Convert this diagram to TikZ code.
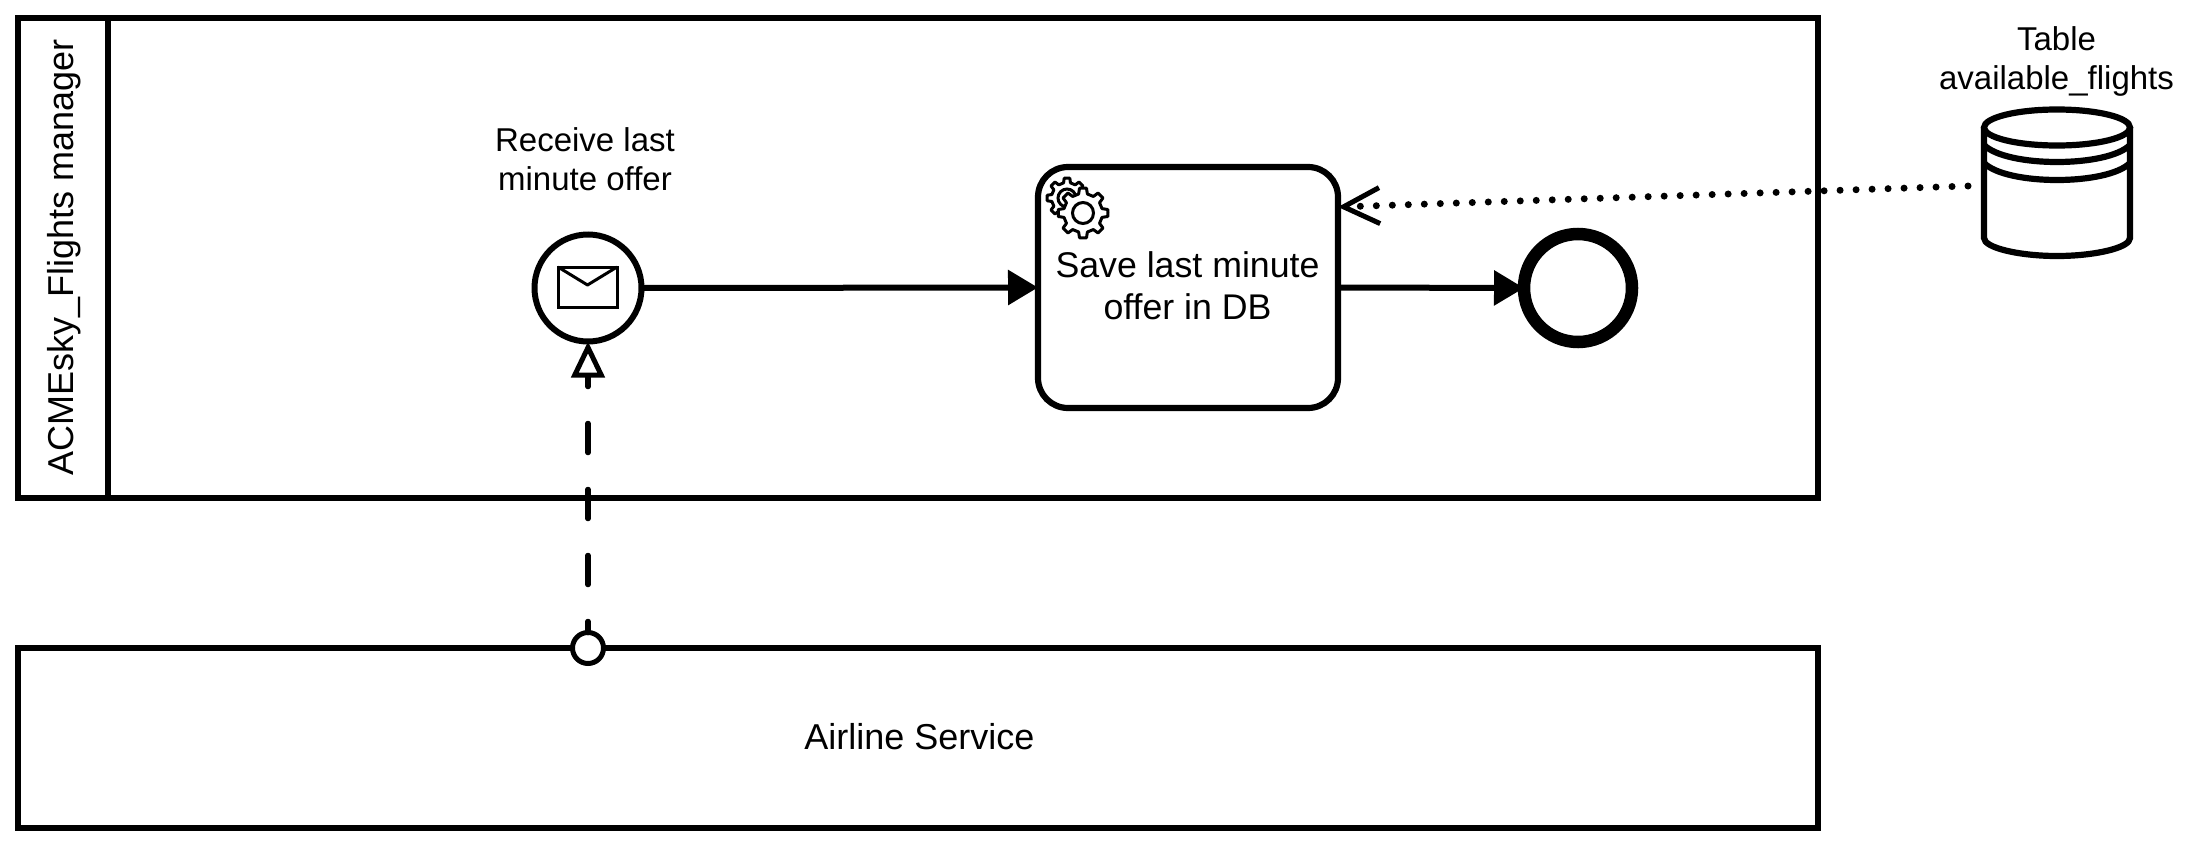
\documentclass[tikz,border=0pt]{standalone}
\usepackage{fontspec}
\setmainfont{Liberation Sans}
\usetikzlibrary{arrows.meta,calc}
\newcommand{\mygearpath}[4]{% cx cy rOuter rInner
  \draw[gearline] (#1+#3*1,#2) \foreach \k in {0,...,7}{
    -- ($(#1,#2)+(\k*45-8:#3)$) -- ($(#1,#2)+(\k*45+8:#3)$)
    -- ($(#1,#2)+(\k*45+13:#4)$) -- ($(#1,#2)+(\k*45+32:#4)$)
  } -- ($(#1,#2)+(-8:#3)$) -- cycle;
}
\tikzset{
  x=1pt,y=-1pt,
  pool/.style={draw=black,line width=6.2pt,rectangle,inner sep=0pt,outer sep=0pt,fill=white,font=\fontsize{36}{42}\selectfont},
  lanehead/.style={font=\fontsize{36}{42}\selectfont,rotate=90,inner sep=0pt},
  taskbox/.style={draw=black,line width=6.2pt,rectangle,rounded corners=30pt,inner sep=0pt,outer sep=0pt,minimum width=300pt,minimum height=241pt},
  tasklabel/.style={font=\fontsize{35.7}{42}\selectfont,align=center,inner sep=0pt},
  smalllabel/.style={font=\fontsize{33}{39}\selectfont,align=center,inner sep=0pt},
  startevent/.style={draw=black,line width=6pt,circle,inner sep=0pt,outer sep=0pt,minimum size=107pt,fill=white},
  endevent/.style={draw=black,line width=12.5pt,circle,inner sep=0pt,outer sep=0pt,minimum size=108pt,fill=white},
  port/.style={draw=black,line width=5pt,circle,inner sep=0pt,outer sep=0pt,minimum size=31pt,fill=white},
  seqflow/.style={line width=6pt,-{Triangle[length=30pt,width=34pt]}},
  msgflow/.style={line width=5.5pt,line cap=round,dash pattern=on 29pt off 37pt,dash phase=18pt,-{Triangle[open,fill=white,length=36pt,width=33pt,line width=5pt]}},
  dataflow/.style={line width=7pt,line cap=round,dash pattern=on 0pt off 16pt,-{Straight Barb[length=36pt,width=36pt,line width=5pt]}},
  gearline/.style={draw=black,line width=3pt,fill=white,line join=round},
  dbline/.style={draw=black,line width=6.2pt},
  envline/.style={draw=black,line width=3pt}
}
\begin{document}
\begin{tikzpicture}
\useasboundingbox (0,0) rectangle (2193,846);
\fill[white] (0,0) rectangle (2193,846);

% pools
\node[pool,minimum width=1800pt,minimum height=480pt] (flights) at (918,258) {};
\draw[line width=6.2pt] (108,18) -- (108,498);
\node[lanehead] (flightslabel) at (64,257) {ACMEsky\_Flights manager};
\node[pool,minimum width=1800pt,minimum height=180pt] (airline) at (918,738) {};
\node[font=\fontsize{36}{42}\selectfont,inner sep=0pt] (airlinelabel) at (919.5,737) {Airline Service};

% events and task
\node[startevent] (start) at (588,288) {};
\draw[envline] (558,267) rectangle (617,307);
\draw[envline,line join=round] (558,267) -- (587.5,285) -- (617,267);
\node[smalllabel] (startlabel) at (585,159.5) {Receive last\\minute offer};

\node[taskbox] (task) at (1188,287.5) {};
\node[tasklabel] (tasklabeltext) at (1187.5,286) {Save last minute\\offer in DB};
\mygearpath{1067}{198}{20}{15.5}
\draw[line width=3pt] (1067,198) circle (9);
\mygearpath{1083}{213}{25}{19.5}
\draw[line width=3pt] (1083,213) circle (10.5);

\node[endevent] (end) at (1578,288) {};
\node[port] (flowsrc) at (588,648) {};

% data store
\draw[dbline,fill=white] (1984,127.5) -- (1984,238) .. controls (1984,248) and (2020,256) .. (2057,256)
  .. controls (2094,256) and (2130,248) .. (2130,238) -- (2130,127.5);
\draw[dbline,fill=white] (2057,127.5) ellipse (73 and 18);
\draw[dbline] (1984,145) .. controls (1995,156) and (2025,162) .. (2057,162) .. controls (2089,162) and (2119,156) .. (2130,145);
\draw[dbline] (1984,163) .. controls (1995,174) and (2025,180) .. (2057,180) .. controls (2089,180) and (2119,174) .. (2130,163);
\node[smalllabel] (dblabel) at (2056.5,61.5) {Table\\available\_flights};
\coordinate (dbport) at (1968,186);
\coordinate (taskport) at (1338,207);

% connectors
\draw[seqflow] (start.east) -- (task.west);
\draw[seqflow] (task.east) -- (end.west);
\draw[msgflow] (flowsrc.north) -- (start.south);
\draw[dataflow] (dbport) -- (taskport);
\end{tikzpicture}
\end{document}
